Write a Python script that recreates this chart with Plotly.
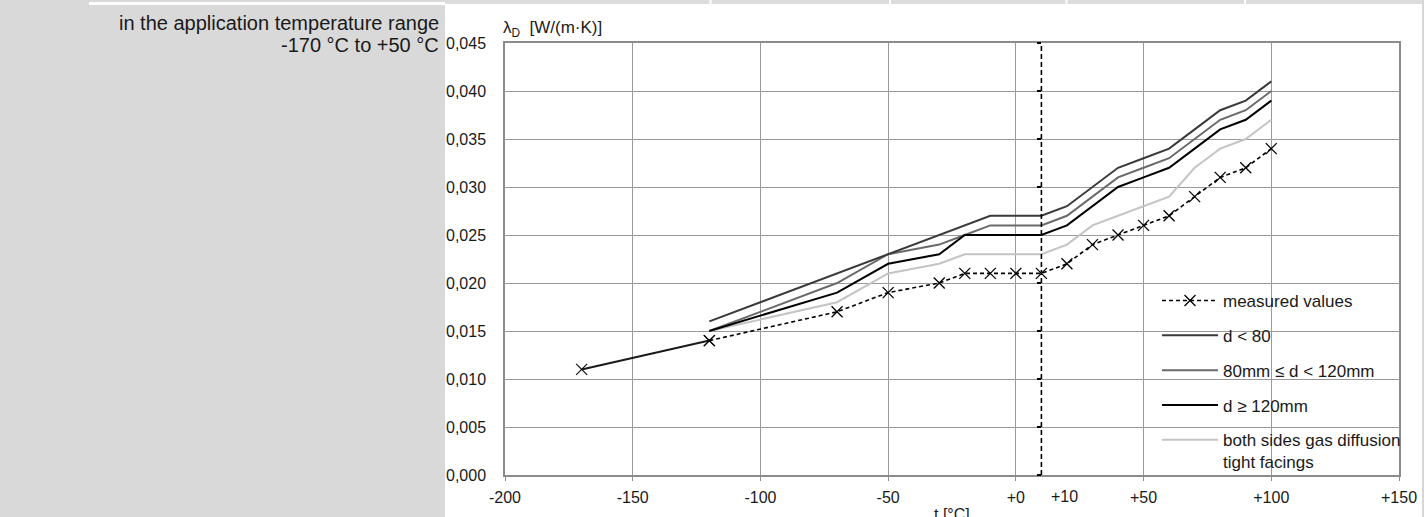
import plotly.graph_objects as go

# ---------------- data ----------------
t_measured = [-170, -120, -70, -50, -30, -20, -10, 0, 10, 20, 30, 40, 50, 60, 70, 80, 90, 100]
lam_measured = [0.011, 0.014, 0.017, 0.019, 0.020, 0.021, 0.021, 0.021, 0.021, 0.022,
                0.024, 0.025, 0.026, 0.027, 0.029, 0.031, 0.032, 0.034]

t_curves = [-120, -70, -50, -30, -20, -10, 0, 10, 20, 30, 40, 50, 60, 70, 80, 90, 100]
lam_d_lt_80 = [0.016, 0.021, 0.023, 0.025, 0.026, 0.027, 0.027, 0.027, 0.028, 0.030,
               0.032, 0.033, 0.034, 0.036, 0.038, 0.039, 0.041]
lam_d_80_120 = [0.015, 0.020, 0.023, 0.024, 0.025, 0.026, 0.026, 0.026, 0.027, 0.029,
                0.031, 0.032, 0.033, 0.035, 0.037, 0.038, 0.040]
lam_d_ge_120 = [0.015, 0.019, 0.022, 0.023, 0.025, 0.025, 0.025, 0.025, 0.026, 0.028,
                0.030, 0.031, 0.032, 0.034, 0.036, 0.037, 0.039]
lam_facings = [0.015, 0.018, 0.021, 0.022, 0.023, 0.023, 0.023, 0.023, 0.024, 0.026,
               0.027, 0.028, 0.029, 0.032, 0.034, 0.035, 0.037]

x_tickvals = [-200, -150, -100, -50, 0, 50, 100, 150]
x_ticktext = ["-200", "-150", "-100", "-50", "+0", "+50", "+100", "+150"]
marker_temp = [10]
marker_temp_text = "+10"
y_range = [0, 0.045]
x_range = [-200, 150]

names = ["measured values", "d < 80", "80mm \u2264 d < 120mm", "d \u2265 120mm",
         "both sides gas diffusion<br>tight facings"]

# ---------------- layout geometry ----------------
WIDTH, HEIGHT = 1428, 517
L, R, T, B = 505, 29, 43, 42
PW = WIDTH - L - R
PH = HEIGHT - T - B


def px(x):
    return (x - L) / PW


def py(y):
    return (HEIGHT - B - y) / PH


FONT = "Liberation Sans, Arial, sans-serif"
GRID = "#9a9a9a"

fig = go.Figure()

fig.add_trace(go.Scatter(x=t_curves, y=lam_facings, mode="lines", name=names[4],
                         line=dict(color="#c4c4c4", width=2), legendgroup="g5", legendrank=5))
fig.add_trace(go.Scatter(x=t_curves, y=lam_d_80_120, mode="lines", name=names[2],
                         line=dict(color="#6a6a6a", width=2), legendgroup="g3", legendrank=3))
fig.add_trace(go.Scatter(x=t_curves, y=lam_d_lt_80, mode="lines", name=names[1],
                         line=dict(color="#3a3a3a", width=2), legendgroup="g2", legendrank=2))
fig.add_trace(go.Scatter(x=t_curves, y=lam_d_ge_120, mode="lines", name=names[3],
                         line=dict(color="#000000", width=2), legendgroup="g4", legendrank=4))

# solid first segment of measured values
fig.add_trace(go.Scatter(x=t_measured[:2], y=lam_measured[:2], mode="lines+markers",
                         showlegend=False,
                         line=dict(color="#1a1a1a", width=2),
                         marker=dict(symbol="x-thin-open", size=11,
                                     line=dict(color="#1a1a1a", width=1.3))))
fig.add_trace(go.Scatter(x=t_measured[1:], y=lam_measured[1:], mode="lines+markers",
                         name=names[0], legendgroup="g1", legendrank=1,
                         line=dict(color="#000000", width=1.6, dash="4px,3px"),
                         marker=dict(symbol="x-thin-open", size=11,
                                     line=dict(color="#1a1a1a", width=1.3))))

# vertical dashed reference line at +10 (secondary axes)
fig.add_trace(go.Scatter(x=marker_temp * 2, y=y_range, mode="lines", showlegend=False,
                         xaxis="x2", yaxis="y2", hoverinfo="skip",
                         line=dict(color="#000000", width=1.6, dash="5px,3px")))

shapes = [
    # left grey panel
    dict(type="rect", xref="paper", yref="paper", x0=px(0), x1=px(445), y0=py(HEIGHT), y1=py(0),
         fillcolor="#d9d9d9", line=dict(width=0), layer="below"),
    # white line at top of the grey panel
    dict(type="line", xref="paper", yref="paper", x0=px(89), x1=px(445), y0=py(3.5), y1=py(3.5),
         line=dict(color="white", width=3)),
    # grey band at top right
    dict(type="rect", xref="paper", yref="paper", x0=px(445), x1=px(1424), y0=py(4), y1=py(0),
         fillcolor="#dcdcdc", line=dict(width=0)),
    # right frame line
    dict(type="line", xref="paper", yref="paper", x0=px(1423), x1=px(1423), y0=py(HEIGHT), y1=py(0),
         line=dict(color="#d6d6d6", width=2)),
]
for gx in [710.5, 890, 1066.5, 1245]:
    shapes.append(dict(type="line", xref="paper", yref="paper", x0=px(gx), x1=px(gx),
                       y0=py(4), y1=py(0), line=dict(color="white", width=2)))

annotations = [
    dict(text="in the application temperature range", xref="paper", yref="paper",
         x=px(441), y=py(23), xanchor="right", yanchor="middle", showarrow=False,
         font=dict(family=FONT, size=20, color="#1a1a1a")),
    dict(text="-170 \u00b0C to +50 \u00b0C", xref="paper", yref="paper",
         x=px(441), y=py(45), xanchor="right", yanchor="middle", showarrow=False,
         font=dict(family=FONT, size=20, color="#1a1a1a")),
    dict(text="\u03bb<sub>D</sub>  [W/(m\u00b7K)]", xref="paper", yref="paper",
         x=px(501), y=py(29), xanchor="left", yanchor="middle", showarrow=False,
         font=dict(family=FONT, size=17, color="#1a1a1a")),
    dict(text="t [\u00b0C]", xref="paper", yref="paper",
         x=0.5, y=py(504), xanchor="center", yanchor="top", showarrow=False,
         font=dict(family=FONT, size=16, color="#1a1a1a")),
    dict(text=marker_temp_text, xref="paper", yref="paper",
         x=px(1064), y=py(497), xanchor="center", yanchor="middle", showarrow=False,
         font=dict(family=FONT, size=16, color="#1a1a1a")),
]

fig.update_layout(
    width=WIDTH, height=HEIGHT,
    margin=dict(l=L, r=R, t=T, b=B, pad=0),
    paper_bgcolor="white", plot_bgcolor="white",
    separators=",.",
    font=dict(family=FONT, size=16, color="#1a1a1a"),
    showlegend=True,
    legend=dict(x=px(1157), y=py(283), xanchor="left", yanchor="top",
                bgcolor="rgba(0,0,0,0)", borderwidth=0,
                font=dict(family=FONT, size=17, color="#1a1a1a"),
                traceorder="grouped", tracegroupgap=9.7, itemwidth=56,
                valign="top"),
    xaxis=dict(range=x_range, tickvals=x_tickvals, ticktext=x_ticktext,
               showgrid=True, gridcolor=GRID, gridwidth=1.3,
               showline=True, linecolor="#8c8c8c", linewidth=1.5, mirror=True,
               ticks="outside", ticklen=4, tickcolor="#8c8c8c", tickwidth=1.3,
               ticklabelstandoff=3,
               zeroline=False, tickfont=dict(size=16)),
    yaxis=dict(range=y_range, dtick=0.005, tick0=0, tickformat=".3f",
               showgrid=True, gridcolor=GRID, gridwidth=1.3,
               showline=True, linecolor="#8c8c8c", linewidth=1.5, mirror=True,
               ticks="", ticklabelstandoff=14,
               zeroline=False, tickfont=dict(size=16)),
    xaxis2=dict(range=x_range, overlaying="x", anchor="free", position=0,
                showticklabels=False, showgrid=False, showline=False, zeroline=False,
                ticks=""),
    yaxis2=dict(range=y_range, overlaying="y", anchor="free",
                position=(marker_temp[0] - x_range[0]) / (x_range[1] - x_range[0]),
                dtick=0.005, tick0=0, showgrid=False, showline=False, zeroline=False,
                showticklabels=False, ticks="outside", ticklen=4, tickwidth=1.5,
                tickcolor="#000000"),
    shapes=shapes,
    annotations=annotations,
)

fig.write_html("out.html",
               config={"displayModeBar": False},
               post_script="document.body.style.margin='0';document.body.style.overflow='hidden';")
